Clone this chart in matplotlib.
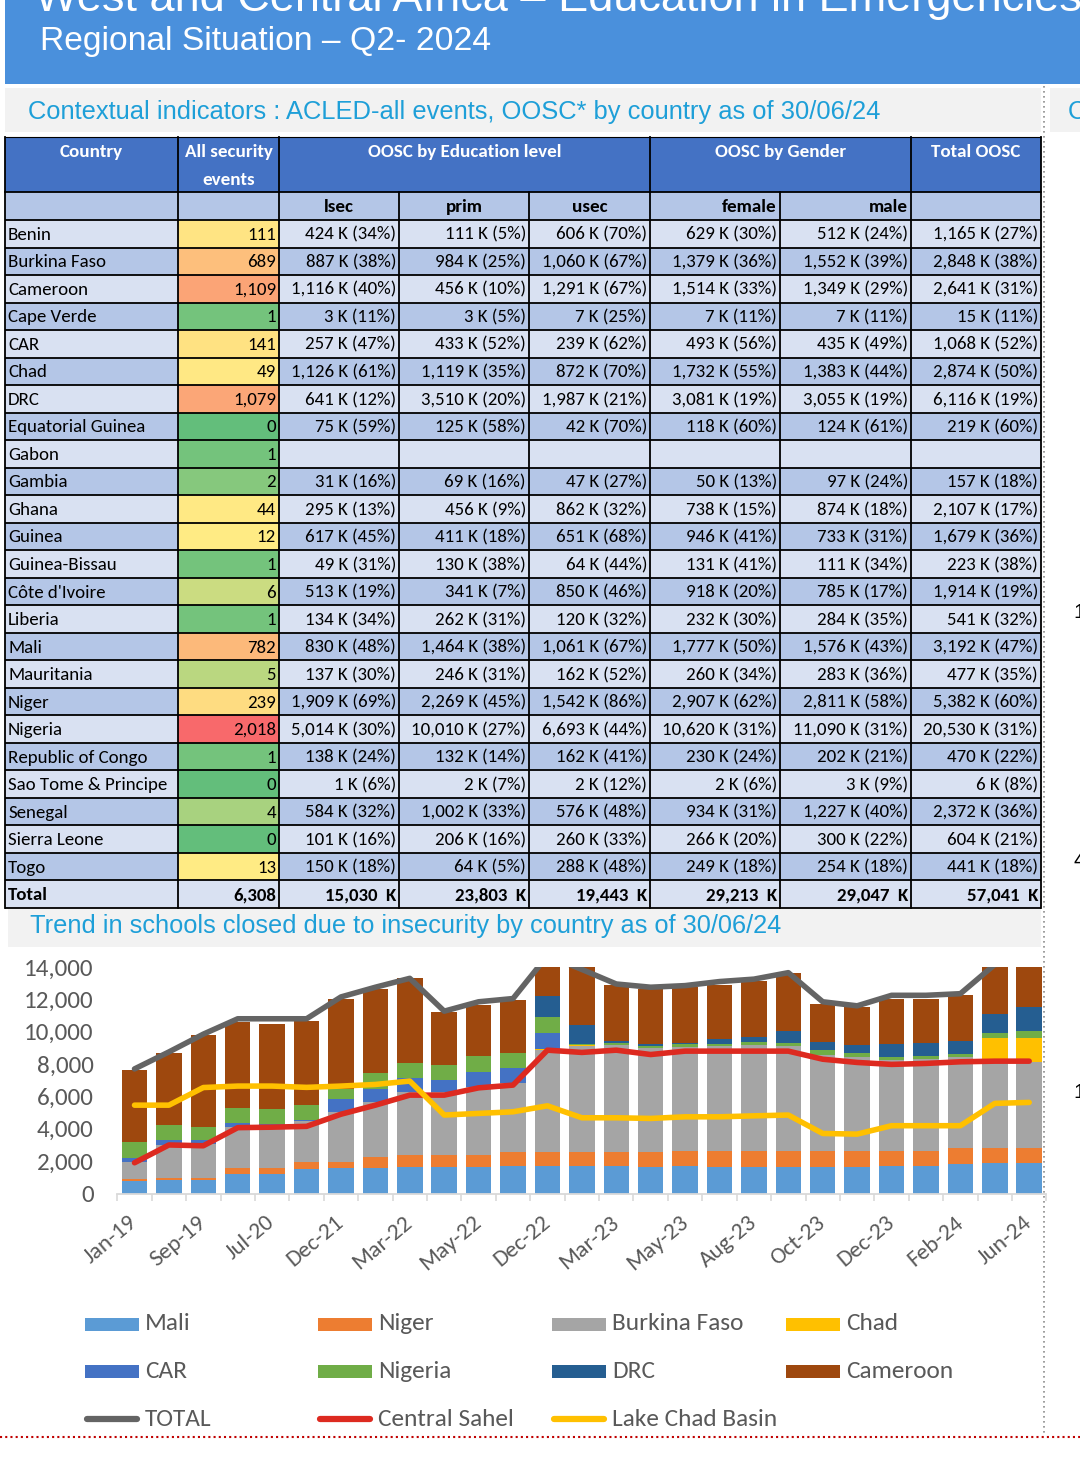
import numpy as np
import matplotlib
matplotlib.use("Agg")
import matplotlib.pyplot as plt
from matplotlib.patches import Rectangle
from matplotlib import font_manager as fm

# ----------------------------- DATA -----------------------------
countries = ["Benin", "Burkina Faso", "Cameroon", "Cape Verde", "CAR", "Chad", "DRC",
             "Equatorial Guinea", "Gabon", "Gambia", "Ghana", "Guinea", "Guinea-Bissau",
             "Côte d'Ivoire", "Liberia", "Mali", "Mauritania", "Niger", "Nigeria",
             "Republic of Congo", "Sao Tome & Principe", "Senegal", "Sierra Leone", "Togo"]
security_events = [111, 689, 1109, 1, 141, 49, 1079, 0, 1, 2, 44, 12, 1, 6, 1, 782, 5,
                   239, 2018, 1, 0, 4, 0, 13]
lsec_k = [424, 887, 1116, 3, 257, 1126, 641, 75, None, 31, 295, 617, 49, 513, 134, 830,
          137, 1909, 5014, 138, 1, 584, 101, 150]
lsec_pct = [34, 38, 40, 11, 47, 61, 12, 59, None, 16, 13, 45, 31, 19, 34, 48, 30, 69, 30,
            24, 6, 32, 16, 18]
prim_k = [111, 984, 456, 3, 433, 1119, 3510, 125, None, 69, 456, 411, 130, 341, 262, 1464,
          246, 2269, 10010, 132, 2, 1002, 206, 64]
prim_pct = [5, 25, 10, 5, 52, 35, 20, 58, None, 16, 9, 18, 38, 7, 31, 38, 31, 45, 27, 14,
            7, 33, 16, 5]
usec_k = [606, 1060, 1291, 7, 239, 872, 1987, 42, None, 47, 862, 651, 64, 850, 120, 1061,
          162, 1542, 6693, 162, 2, 576, 260, 288]
usec_pct = [70, 67, 67, 25, 62, 70, 21, 70, None, 27, 32, 68, 44, 46, 32, 67, 52, 86, 44,
            41, 12, 48, 33, 48]
female_k = [629, 1379, 1514, 7, 493, 1732, 3081, 118, None, 50, 738, 946, 131, 918, 232,
            1777, 260, 2907, 10620, 230, 2, 934, 266, 249]
female_pct = [30, 36, 33, 11, 56, 55, 19, 60, None, 13, 15, 41, 41, 20, 30, 50, 34, 62, 31,
              24, 6, 31, 20, 18]
male_k = [512, 1552, 1349, 7, 435, 1383, 3055, 124, None, 97, 874, 733, 111, 785, 284, 1576,
          283, 2811, 11090, 202, 3, 1227, 300, 254]
male_pct = [24, 39, 29, 11, 49, 44, 19, 61, None, 24, 18, 31, 34, 17, 35, 43, 36, 58, 31,
            21, 9, 40, 22, 18]
total_k = [1165, 2848, 2641, 15, 1068, 2874, 6116, 219, None, 157, 2107, 1679, 223, 1914,
           541, 3192, 477, 5382, 20530, 470, 6, 2372, 604, 441]
total_pct = [27, 38, 31, 11, 52, 50, 19, 60, None, 18, 17, 36, 38, 19, 32, 47, 35, 60, 31,
             22, 8, 36, 21, 18]
totals_row = [6308, 15030, 23803, 19443, 29213, 29047, 57041]

# schools closed (stacked bars), 27 periods; only every other label is shown in the source
period_labels = ["Jan-19", "", "Sep-19", "", "Jul-20", "", "Dec-21", "", "Mar-22", "",
                 "May-22", "", "Dec-22", "", "Mar-23", "", "May-23", "", "Aug-23", "",
                 "Oct-23", "", "Dec-23", "", "Feb-24", "", "Jun-24"]
mali = [790, 830, 830, 1200, 1200, 1510, 1550, 1550, 1610, 1610, 1610, 1720, 1720, 1720,
        1720, 1660, 1720, 1660, 1660, 1660, 1620, 1620, 1720, 1720, 1820, 1900, 1900]
niger = [80, 120, 140, 350, 350, 410, 410, 680, 770, 770, 800, 860, 860, 860, 860, 880,
         900, 990, 970, 970, 1010, 1010, 930, 930, 970, 930, 930]
burkina = [1050, 2040, 2060, 2530, 2600, 2570, 3050, 3440, 3910, 3900, 4180, 4220, 6280,
           6540, 6600, 6460, 6460, 6470, 6560, 6500, 5930, 5780, 5600, 5640, 5620, 5310, 5310]
chad = [0, 0, 0, 0, 0, 0, 0, 0, 0, 0, 0, 0, 100, 30, 0, 0, 0, 0, 0, 0, 0, 0, 0, 0, 0,
        1480, 1480]
car = [290, 290, 270, 250, 150, 80, 850, 820, 820, 720, 930, 930, 990, 0, 0, 0, 0, 0, 0,
       0, 0, 0, 0, 0, 0, 0, 0]
nigeria = [950, 950, 840, 970, 950, 900, 620, 930, 930, 930, 970, 930, 930, 60, 150, 130,
           130, 150, 150, 150, 300, 250, 200, 200, 200, 310, 410]
drc = [0, 0, 0, 0, 0, 0, 0, 0, 0, 0, 0, 0, 1340, 1230, 100, 140, 120, 310, 350, 760, 510,
       510, 820, 840, 800, 1190, 1500]
cameroon = [4500, 4470, 5680, 5300, 5250, 5200, 5570, 5250, 5250, 3290, 3190, 3290, 2480,
            3600, 3480, 3400, 3440, 3335, 3440, 3560, 2370, 2370, 2780, 2720, 2880, 3030, 2665]
total_line = [7700, 8750, 9850, 10800, 10800, 10800, 12150, 12750, 13300, 11270, 11850,
              12050, 14700, 13850, 12950, 12750, 12850, 13100, 13250, 13650, 11850, 11600,
              12250, 12250, 12350, 14150, 14250]
central_sahel = [1900, 3000, 2950, 4070, 4100, 4150, 4900, 5460, 6080, 6080, 6530, 6700,
                 8860, 8720, 8860, 8590, 8800, 8800, 8800, 8800, 8300, 8100, 7980, 8040,
                 8140, 8180, 8180]
lake_chad = [5460, 5460, 6550, 6640, 6640, 6560, 6640, 6740, 6950, 4850, 4950, 5050, 5420,
             4680, 4680, 4640, 4740, 4740, 4800, 4850, 3710, 3670, 4190, 4190, 4190, 5570,
             5630]

bar_series = [("Mali", mali), ("Niger", niger), ("Burkina Faso", burkina), ("Chad", chad),
              ("CAR", car), ("Nigeria", nigeria), ("DRC", drc), ("Cameroon", cameroon)]
line_series = [("TOTAL", total_line), ("Central Sahel", central_sahel),
               ("Lake Chad Basin", lake_chad)]

# ----------------------------- STYLE -----------------------------
COLORS = {"Mali": "#5B9BD5", "Niger": "#ED7D31", "Burkina Faso": "#A5A5A5",
          "Chad": "#FFC000", "CAR": "#4472C4", "Nigeria": "#70AD47", "DRC": "#255E91",
          "Cameroon": "#9E480E", "TOTAL": "#646464", "Central Sahel": "#DD2A20",
          "Lake Chad Basin": "#FFC000"}
HEAD_BLUE = "#4A90DC"
CYAN = "#1E9FD8"
GREY_TXT = "#595959"

names = {f.name for f in fm.fontManager.ttflist}


def pick(*cands):
    for c in cands:
        if c in names:
            return c
    return "DejaVu Sans"


SANS = pick("Liberation Sans", "Arimo", "DejaVu Sans")
CAL = pick("Carlito", "Lato", "Open Sans", "DejaVu Sans")

W, H, DPI = 1080, 1461, 100
fig = plt.figure(figsize=(W / DPI, H / DPI), dpi=DPI)
fig.patch.set_facecolor("white")
bg = fig.add_axes([0, 0, 1, 1])
bg.set_xlim(0, W)
bg.set_ylim(H, 0)
bg.axis("off")
renderer = fig.canvas.get_renderer()


def fit(s, fam, px, weight="normal"):
    t = bg.text(0, 0, s, fontsize=20, family=fam, weight=weight)
    w = t.get_window_extent(renderer=renderer).width
    t.remove()
    return 20.0 * px / w


# ----------------------------- HEADER -----------------------------
bg.add_patch(Rectangle((5, 0), W - 5, 84, fc=HEAD_BLUE, ec="none"))
fs_title = fit("West and Central Africa", SANS, 472)
bg.text(35, 11, "West and Central Africa \u2013 Education in Emergencies", family=SANS,
        fontsize=fs_title, color="white", va="baseline", ha="left")
fs_sub = fit("Regional Situation \u2013 Q2- 2024", SANS, 450)
bg.text(40, 50, "Regional Situation \u2013 Q2- 2024", family=SANS, fontsize=fs_sub,
        color="white", va="baseline", ha="left")

bg.add_patch(Rectangle((5, 88), 1036, 44, fc="#F2F2F2", ec="none"))
bg.add_patch(Rectangle((1050, 88), 30, 44, fc="#F2F2F2", ec="none"))
ctx = "Contextual indicators : ACLED-all events, OOSC* by country as of 30/06/24"
fs_ctx = fit(ctx, SANS, 850)
bg.text(28, 119, ctx, family=SANS, fontsize=fs_ctx, color=CYAN, va="baseline")
bg.text(1068, 119, "C", family=SANS, fontsize=fs_ctx, color=CYAN, va="baseline")

# ----------------------------- TABLE -----------------------------
cols = [5, 178, 279, 399, 529, 650, 780, 911, 1041]
y_h1, y_h2, y_d0, y_end = 137, 192, 220, 908
nrows = len(countries) + 1
rh = (y_end - y_d0) / nrows
LIGHT, DARK = "#D9E1F2", "#B4C6E7"

bg.add_patch(Rectangle((cols[0], y_h1), cols[-1] - cols[0], y_h2 - y_h1, fc="#4472C4", ec="none"))
bg.add_patch(Rectangle((cols[0], y_h2), cols[-1] - cols[0], y_d0 - y_h2, fc=DARK, ec="none"))
for i in range(nrows):
    bg.add_patch(Rectangle((cols[0], y_d0 + i * rh), cols[-1] - cols[0], rh,
                           fc=LIGHT if i % 2 == 0 else DARK, ec="none"))

# heat colours for security events (3-colour scale: min / median / max)
ev = np.array(security_events, dtype=float)
vmin, vmid, vmax = ev.min(), np.percentile(ev, 50), ev.max()
c_lo, c_mid, c_hi = (np.array(matplotlib.colors.to_rgb(c)) for c in ("#63BE7B", "#FFEB84", "#F8696B"))


def heat(v):
    if v <= vmid:
        t = (v - vmin) / (vmid - vmin)
        return tuple(c_lo + (c_mid - c_lo) * t)
    t = (v - vmid) / (vmax - vmid)
    return tuple(c_mid + (c_hi - c_mid) * t)


for i, v in enumerate(security_events):
    bg.add_patch(Rectangle((cols[1], y_d0 + i * rh), cols[2] - cols[1], rh, fc=heat(v), ec="none"))

# grid lines
LW = 1.3
for y in [y_h1, y_h2, y_d0] + [y_d0 + i * rh for i in range(1, nrows + 1)]:
    bg.plot([cols[0], cols[-1]], [y, y], color="black", lw=LW if y != y_h1 else 0.8,
            solid_capstyle="butt")
for x in [cols[0], cols[1], cols[2], cols[5], cols[7], cols[8]]:
    bg.plot([x, x], [y_h1, y_h2], color="black", lw=LW)
for x in cols:
    bg.plot([x, x], [y_h2, y_end], color="black", lw=LW)

fs_hdr = fit("OOSC by Education level", CAL, 193, "bold")
hy = 152
bg.text((cols[0] + cols[1]) / 2, hy, "Country", family=CAL, weight="bold", color="white",
        fontsize=fs_hdr, ha="center", va="center")
bg.text((cols[1] + cols[2]) / 2, hy, "All security", family=CAL, weight="bold", color="white",
        fontsize=fs_hdr, ha="center", va="center")
bg.text((cols[1] + cols[2]) / 2, 180, "events", family=CAL, weight="bold", color="white",
        fontsize=fs_hdr, ha="center", va="center")
bg.text((cols[2] + cols[5]) / 2, hy, "OOSC by Education level", family=CAL, weight="bold",
        color="white", fontsize=fs_hdr, ha="center", va="center")
bg.text((cols[5] + cols[7]) / 2, hy, "OOSC by Gender", family=CAL, weight="bold",
        color="white", fontsize=fs_hdr, ha="center", va="center")
bg.text((cols[7] + cols[8]) / 2, hy, "Total OOSC", family=CAL, weight="bold",
        color="white", fontsize=fs_hdr, ha="center", va="center")
sy = (y_h2 + y_d0) / 2 + 1
for j, lab in [(2, "lsec"), (3, "prim"), (4, "usec")]:
    bg.text((cols[j] + cols[j + 1]) / 2, sy, lab, family=CAL, weight="bold",
            fontsize=fs_hdr, ha="center", va="center")
for j, lab in [(5, "female"), (6, "male")]:
    bg.text(cols[j + 1] - 3, sy, lab, family=CAL, weight="bold", fontsize=fs_hdr,
            ha="right", va="center")

fs_cell = fit("1,165 K (27%)", CAL, 105)
data_cols = [(lsec_k, lsec_pct), (prim_k, prim_pct), (usec_k, usec_pct),
             (female_k, female_pct), (male_k, male_pct), (total_k, total_pct)]
for i, name in enumerate(countries):
    yc = y_d0 + (i + 0.5) * rh + 1
    bg.text(cols[0] + 3, yc, name, family=CAL, fontsize=fs_cell, ha="left", va="center")
    bg.text(cols[2] - 3, yc, f"{security_events[i]:,}", family=CAL, fontsize=fs_cell,
            ha="right", va="center")
    for j, (kk, pp) in enumerate(data_cols):
        if kk[i] is None:
            continue
        bg.text(cols[j + 3] - 3, yc, f"{kk[i]:,} K ({pp[i]}%)", family=CAL,
                fontsize=fs_cell, ha="right", va="center")
yc = y_d0 + (nrows - 0.5) * rh + 1
bg.text(cols[0] + 3, yc, "Total", family=CAL, weight="bold", fontsize=fs_cell, ha="left", va="center")
bg.text(cols[2] - 3, yc, f"{totals_row[0]:,}", family=CAL, weight="bold", fontsize=fs_cell,
        ha="right", va="center")
for j, v in enumerate(totals_row[1:]):
    bg.text(cols[j + 3] - 3, yc, f"{v:,}  K", family=CAL, weight="bold", fontsize=fs_cell,
            ha="right", va="center")

# ----------------------------- CHART TITLE BAND -----------------------------
bg.add_patch(Rectangle((8, 909), 1033, 38, fc="#F2F2F2", ec="none"))
trend = "Trend in schools closed due to insecurity by country as of 30/06/24"
fs_tr = fit(trend, SANS, 750)
bg.text(30, 933, trend, family=SANS, fontsize=fs_tr, color=CYAN, va="baseline")

# ----------------------------- BAR CHART -----------------------------
x0, x1, ytop, ybot = 117.3, 1046.4, 967.0, 1193.5
ax = fig.add_axes([x0 / W, 1 - ybot / H, (x1 - x0) / W, (ybot - ytop) / H])
ax.patch.set_alpha(0)
x = np.arange(len(period_labels))
bottom = np.zeros(len(x))
for name, vals in bar_series:
    v = np.array(vals, dtype=float)
    ax.bar(x, v, bottom=bottom, width=0.74, color=COLORS[name], zorder=2)
    bottom += v
for name, vals in line_series:
    ax.plot(x, vals, color=COLORS[name], lw=4.0, solid_capstyle="round",
            solid_joinstyle="round", zorder=3)
ax.set_xlim(-0.5, len(x) - 0.5)
ax.set_ylim(0, 14000)
for s in ["top", "right", "left"]:
    ax.spines[s].set_visible(False)
ax.spines["bottom"].set_color("#D9D9D9")
ax.spines["bottom"].set_linewidth(1.3)
fs_y = fit("14,000", CAL, 70)
ax.set_yticks(np.arange(0, 14001, 2000))
ax.set_yticklabels([f"{v:,}" for v in range(0, 14001, 2000)], family=CAL, fontsize=fs_y,
                   color=GREY_TXT)
ax.tick_params(axis="y", length=0, pad=17)
idx = [i for i, l in enumerate(period_labels) if l]
ax.set_xticks(idx)
fs_x = fit("Jan-19", CAL, 62)
ax.set_xticklabels([period_labels[i] for i in idx], family=CAL, fontsize=fs_x,
                   color=GREY_TXT, rotation=40, ha="right", va="center",
                   rotation_mode="anchor")
ax.tick_params(axis="x", which="major", length=0, pad=19)
ax.set_xticks(np.arange(-0.5, len(x), 1.0), minor=True)
ax.tick_params(axis="x", which="minor", length=5, width=1.2, color="#D9D9D9", direction="out")

# ----------------------------- LEGEND -----------------------------
fs_leg = fit("Burkina Faso", CAL, 132)
leg_cols = [85, 318, 552, 786]
leg_rows = [1324, 1371, 1419]
for k, (name, _) in enumerate(bar_series):
    lx, ly = leg_cols[k % 4], leg_rows[k // 4]
    bg.add_patch(Rectangle((lx, ly - 6.5), 54, 13, fc=COLORS[name], ec="none"))
    bg.text(lx + 60, ly, name, family=CAL, fontsize=fs_leg, color=GREY_TXT, va="center")
for k, (name, _) in enumerate(line_series):
    lx, ly = leg_cols[k], leg_rows[2]
    bg.plot([lx + 2, lx + 52], [ly, ly], color=COLORS[name], lw=4.5, solid_capstyle="round")
    bg.text(lx + 60, ly, name, family=CAL, fontsize=fs_leg, color=GREY_TXT, va="center")

# ----------------------------- DECORATIONS -----------------------------
bg.plot([1043.5, 1043.5], [86, 1434], color="#8C8C8C", lw=1.2, ls=(0, (1, 2)))
bg.plot([0, W], [1437, 1437], color="#C00000", lw=1.5, ls=(0, (1, 1.5)))
for yy, ch in [(613, "1"), (860, "4"), (1093, "1")]:
    bg.text(1073, yy, ch, family=SANS, fontsize=15, color="black", va="center", ha="left")

fig.savefig("out.png", dpi=DPI, facecolor="white")
